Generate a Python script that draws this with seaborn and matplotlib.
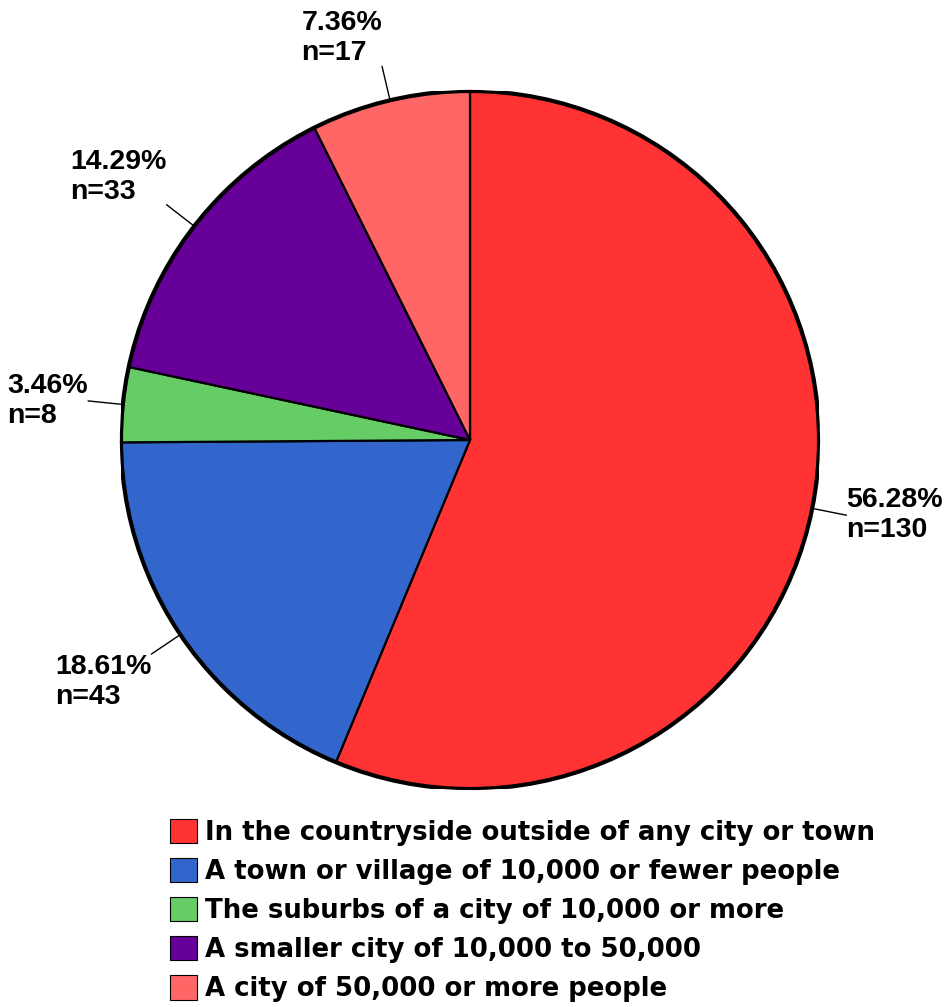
import numpy as np
import matplotlib
matplotlib.use("Agg")
import matplotlib.pyplot as plt
from matplotlib.patches import Patch, Circle
import seaborn as sns

# --- Data ---
categories = [
    "In the countryside outside of any city or town",
    "A town or village of 10,000 or fewer people",
    "The suburbs of a city of 10,000 or more",
    "A smaller city of 10,000 to 50,000",
    "A city of 50,000 or more people",
]
counts = [130, 43, 8, 33, 17]
percents = [56.28, 18.61, 3.46, 14.29, 7.36]
colors = ["#FF3333", "#3366CC", "#66CC66", "#660099", "#FF6666"]

sns.set_style("white")
plt.rcParams["font.family"] = ["Liberation Sans", "DejaVu Sans"]
plt.rcParams["font.weight"] = "bold"
plt.rcParams["text.color"] = "black"

fig = plt.figure(figsize=(9.49, 10.07), dpi=100)
# pie centre ~ (470, 440) px, radius ~ 349 px
cx, cy, r = 470, 440, 349
W, H = 949, 1007
ax = fig.add_axes([(cx - r) / W, (H - cy - r) / H, 2 * r / W, 2 * r / H])

wedges, _ = ax.pie(
    counts, colors=colors, startangle=90, counterclock=False, radius=1,
    wedgeprops={"edgecolor": "black", "linewidth": 1.6},
)
ax.add_patch(Circle((0, 0), 1, fill=False, edgecolor="black", linewidth=3, zorder=5))
ax.set_xlim(-1, 1)
ax.set_ylim(-1, 1)
ax.set_aspect("equal")
ax.axis("off")

# labels with leader lines
for w, pct, n in zip(wedges, percents, counts):
    ang = np.deg2rad((w.theta1 + w.theta2) / 2)
    c, s = np.cos(ang), np.sin(ang)
    x1, y1 = 1.1 * c, 1.1 * s
    ax.plot([c, x1], [s, y1], color="black", linewidth=1, clip_on=False)
    ha = "left" if c > 0 else "right"
    if abs(s) < 0.5:
        va = "center"
    elif s > 0:
        va = "bottom"
    else:
        va = "top"
    ax.text(x1, y1, f"{pct:.2f}%\nn={n}", ha=ha, va=va, multialignment="left",
            fontsize=20.5, fontweight="bold", linespacing=1.2, color="black")

handles = [Patch(facecolor=col, edgecolor="black", linewidth=0.8) for col in colors]
fig.legend(
    handles, categories, loc="upper left", bbox_to_anchor=(170 / W, 1 - 819 / H),
    frameon=False, handlelength=1.05, handleheight=1.05,
    handletextpad=0.3, labelspacing=0.47, borderpad=0, borderaxespad=0,
    prop={"family": "DejaVu Sans", "weight": "bold", "size": 18.7},
    labelcolor="black",
)

fig.savefig("out.png", dpi=100)
